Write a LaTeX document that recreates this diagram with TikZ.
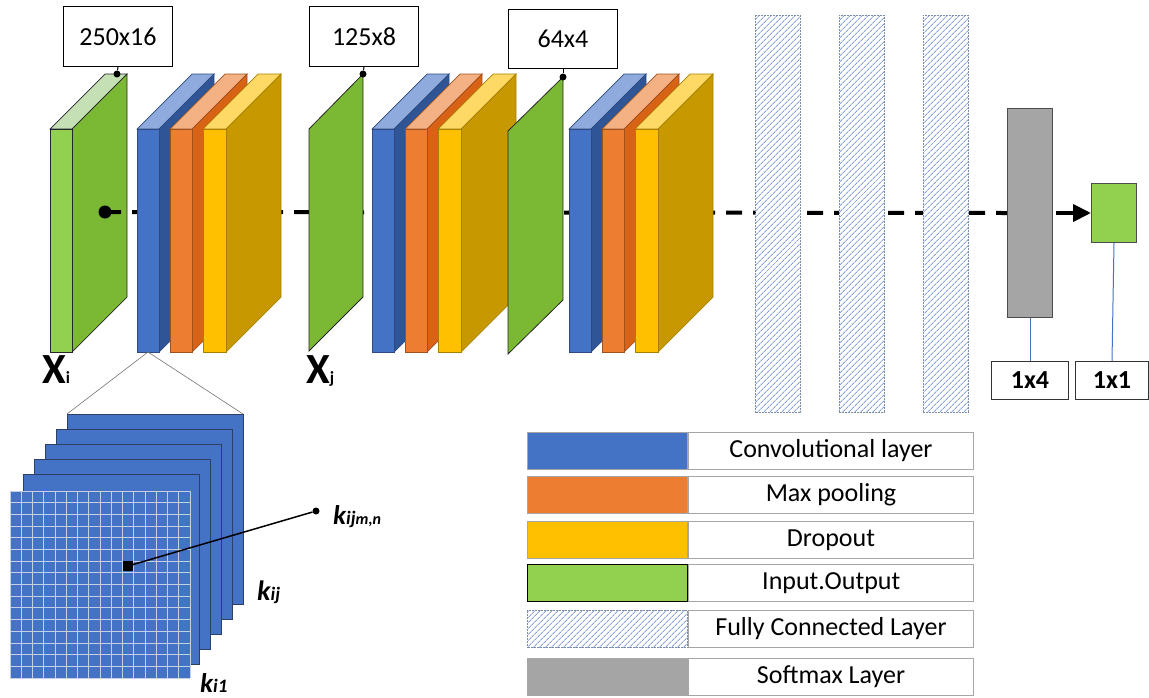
\documentclass[tikz,border=0pt]{standalone}
\usepackage{fontspec}
\setmainfont{Carlito}
\usetikzlibrary{arrows.meta,patterns.meta}
\definecolor{bluef}{HTML}{4472C4}
\definecolor{bluet}{HTML}{8FAADC}
\definecolor{blues}{HTML}{2F5597}
\definecolor{blueo}{HTML}{2F4A80}
\definecolor{orf}{HTML}{ED7D31}
\definecolor{ort}{HTML}{F4B183}
\definecolor{ors}{HTML}{D86216}
\definecolor{oro}{HTML}{9E5220}
\definecolor{yef}{HTML}{FFC000}
\definecolor{yet}{HTML}{FFD966}
\definecolor{yes}{HTML}{C89800}
\definecolor{yeo}{HTML}{A88000}
\definecolor{grf}{HTML}{92D050}
\definecolor{grt}{HTML}{C5E0B4}
\definecolor{grs}{HTML}{7BB934}
\definecolor{hatchc}{HTML}{86A2D8}
\definecolor{softg}{HTML}{A5A5A5}
\definecolor{legb}{HTML}{A6A6A6}
\definecolor{fcb}{HTML}{7F8CA6}
\definecolor{gridc}{HTML}{C4CEE4}
\definecolor{planeb}{HTML}{2E3F66}
\pgfdeclarelayer{back}
\pgfdeclarelayer{mid}
\pgfsetlayers{back,mid,main}
\newcommand\slab[6]{%
  \filldraw[fill=#4,draw=#6,line width=0.7pt] (#1,129) -- ++(55,-55) -- ++(#2,0) -- ++(-55,55) -- cycle;
  \filldraw[fill=#5,draw=#6,line width=0.7pt] ({#1+#2},129) -- ++(55,-55) -- ++(0,223) -- ++(-55,55) -- cycle;
  \filldraw[fill=#3,draw=#6,line width=0.7pt] (#1,129) rectangle ({#1+#2},352);
}
\newcommand\convblock[1]{%
  \slab{#1}{22}{bluef}{bluet}{blues}{blueo}
  \slab{#1+33}{22}{orf}{ort}{ors}{oro}
  \slab{#1+66}{23}{yef}{yet}{yes}{yeo}
}
\begin{document}
\begin{tikzpicture}[x=1pt,y=-1pt,
  sizebox/.style={draw=black, line width=1pt, fill=white, minimum width=109pt, minimum height=60pt, inner sep=0pt, anchor=north west, font=\fontsize{26}{26}\selectfont},
  dimbox/.style={draw=black!80, line width=1pt, fill=white, minimum height=38pt, inner sep=0pt, anchor=north west, font=\bfseries\fontsize{26}{26}\selectfont},
  hatched/.style={preaction={fill=white}, pattern={Lines[angle=45,distance=4pt,line width=1pt]}, pattern color=hatchc},
  fcbox/.style={draw=fcb, dash pattern=on 2pt off 1pt, line width=0.8pt, hatched, minimum width=45pt, minimum height=397pt, inner sep=0pt, anchor=north west},
  legc/.style={minimum width=160pt, minimum height=37pt, inner sep=0pt, anchor=north west, draw=legb, line width=1pt},
  legt/.style={minimum width=285pt, minimum height=37pt, inner sep=0pt, anchor=west, draw=legb, line width=1pt, font=\fontsize{26}{26}\selectfont},
  kdot/.style={circle, fill=black, inner sep=0pt, minimum size=7pt},
  zoomline/.style={draw=black!55, line width=0.6pt},
  dash line/.style={line width=4pt, dash pattern=on 16pt off 11pt},
  klab/.style={inner sep=0pt, anchor=base west, font=\bfseries\itshape}
]
\useasboundingbox (0,0) rectangle (1149,697);

% ---- first input slab (behind the dashed line)
\begin{pgfonlayer}{back}
\slab{50}{22}{grf}{grt}{grs}{black!85}
\end{pgfonlayer}

% ---- conv blocks
\convblock{137}
\convblock{372}
\convblock{569}

% ---- intermediate green slabs
\filldraw[fill=grs,draw=black!85,line width=0.8pt] (309,129) -- (363,74) -- (363,297) -- (309,351) -- cycle;
\filldraw[fill=grs,draw=black!85,line width=0.8pt] (508,131) -- (563,77) -- (563,300) -- (508,354) -- cycle;

% ---- dots on slabs and size boxes
\node[kdot] (d1) at (117,74) {};
\node[kdot] (d2) at (363,74) {};
\node[kdot] (d3) at (563,77) {};
\node[sizebox] (s1) at (63,6) {250x16};
\node[sizebox] (s2) at (309,6) {125x8};
\node[sizebox, minimum height=59pt] (s3) at (508,9) {64x4};
\draw[line width=1pt] (s1.south) -- (d1);
\draw[line width=1pt] (s2.south) -- (d2);
\draw[line width=1pt] (s3.south) -- (d3);

% ---- fully connected layers
\node[fcbox] (fc1) at (755,15) {};
\node[fcbox] (fc2) at (839,15) {};
\node[fcbox] (fc3) at (923,15) {};

% ---- softmax and output
\node[draw=black!70, line width=1pt, fill=softg, minimum width=45pt, minimum height=209pt, inner sep=0pt, anchor=north west] (sm) at (1007,108) {};
\node[draw=black!70, line width=1pt, fill=grf, minimum width=45pt, minimum height=59pt, inner sep=0pt, anchor=north west] (out) at (1091,183) {};
\node[dimbox, minimum width=77pt] (b14) at (991,361) {1x4};
\node[dimbox, minimum width=73pt] (b11) at (1075,361) {1x1};
\draw[bluef, line width=1pt] (sm.south) -- (b14.north);
\draw[bluef, line width=1pt] (out.south) -- (b11.north);

% ---- main dashed flow line
\node[circle, fill=black, inner sep=0pt, minimum size=13pt] (d0) at (105,212) {};
\begin{pgfonlayer}{mid}
\draw[dash line] (d0.center) -- (sm.west);
\end{pgfonlayer}
\draw[line width=4pt, -{Triangle[length=18pt,width=17pt]}, shorten <=3pt] (sm.east) -- (out.west);

% ---- X labels
\node[inner sep=0pt, anchor=base west] (xi) at (42,383) {\fontsize{43}{43}\selectfont\bfseries X\fontsize{17}{17}\selectfont i};
\node[inner sep=0pt, anchor=base west] (xj) at (306,383) {\fontsize{43}{43}\selectfont\bfseries X\fontsize{17}{17}\selectfont j};

% ---- kernel stack
\coordinate (cb) at (148,352);
\foreach \k in {0,...,4}{
  \filldraw[fill=bluef, draw=planeb, line width=0.8pt] ({67-11*\k},{414+15*\k}) rectangle ++(176,190);
}
\coordinate (pl) at (67,414);
\coordinate (pr) at (243,414);
\draw[zoomline] (cb) -- (pl);
\draw[zoomline] (cb) -- (pr);
\fill[bluef] (10,491) rectangle (190,678);
\foreach \i in {0,...,16}{
  \draw[gridc, line width=0.8pt] ({10+\i*11.25},491) -- ({10+\i*11.25},678);
  \draw[gridc, line width=0.8pt] (10,{491+\i*11.6875}) -- (190,{491+\i*11.6875});
}
\node[fill=black, inner sep=0pt, minimum size=10pt] (sq) at (128,566) {};
\node[kdot] (kd) at (316,511) {};
\draw[line width=1.5pt] (sq.center) -- (kd);
\node[klab] (kmn) at (333,524) {\fontsize{27}{27}\selectfont k\fontsize{19}{19}\selectfont ij\fontsize{16}{16}\selectfont m,n};
\node[klab] (kij) at (257,600) {\fontsize{28}{28}\selectfont k\fontsize{19}{19}\selectfont ij};
\node[klab] (ki1) at (200,692) {\fontsize{27}{27}\selectfont k\fontsize{19}{19}\selectfont i1};

% ---- legend
\node[legc, fill=bluef] (l1c) at (527,432) {};
\node[legt] (l1t) at (l1c.east) {Convolutional layer};
\node[legc, fill=orf] (l2c) at (527,476) {};
\node[legt] (l2t) at (l2c.east) {Max pooling};
\node[legc, fill=yef] (l3c) at (527,521) {};
\node[legt] (l3t) at (l3c.east) {Dropout};
\node[legc, fill=grf, draw=black, line width=1.3pt] (l4c) at (527,564) {};
\node[legt] (l4t) at (l4c.east) {Input.Output};
\node[legc, draw=fcb, dash pattern=on 2pt off 1pt, hatched] (l5c) at (527,610) {};
\node[legt] (l5t) at (l5c.east) {Fully Connected Layer};
\node[legc, fill=softg] (l6c) at (527,658) {};
\node[legt] (l6t) at (l6c.east) {Softmax Layer};
\end{tikzpicture}
\end{document}
